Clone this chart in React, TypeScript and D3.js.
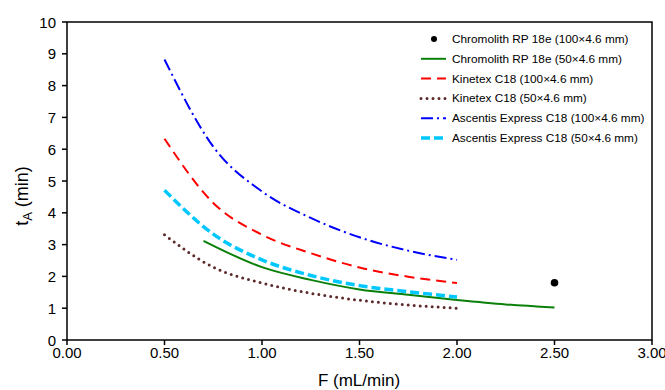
import React from "react";
import * as d3 from "d3";

const flowRates = [0.5, 0.75, 1.0, 1.25, 1.5, 1.75, 2.0];
const ascentis100 = [8.82, 6.08, 4.67, 3.84, 3.23, 2.81, 2.52];
const kinetex100 = [6.33, 4.31, 3.31, 2.73, 2.28, 1.99, 1.79];
const ascentis50 = [4.71, 3.33, 2.52, 2.03, 1.71, 1.52, 1.35];
const kinetex50 = [3.31, 2.29, 1.79, 1.47, 1.25, 1.1, 1.0];
const chromolithFlow = [0.7, 1.0, 1.25, 1.5, 1.75, 2.0, 2.25, 2.5];
const chromolith50 = [3.12, 2.29, 1.89, 1.59, 1.42, 1.26, 1.12, 1.02];
const chromolith100Point = { F: 2.5, t: 1.8 };

const xTicks = [0, 0.5, 1, 1.5, 2, 2.5, 3];
const yTicks = [0, 1, 2, 3, 4, 5, 6, 7, 8, 9, 10];

const legendLabels = [
  "Chromolith RP 18e (100×4.6 mm)",
  "Chromolith RP 18e (50×4.6 mm)",
  "Kinetex C18 (100×4.6 mm)",
  "Kinetex C18 (50×4.6 mm)",
  "Ascentis Express C18 (100×4.6 mm)",
  "Ascentis Express C18 (50×4.6 mm)",
];

type Style = { color: string; width: number; dash?: string; cap?: string };

const styles: Style[] = [
  { color: "#000000", width: 0 },
  { color: "#0a800a", width: 2 },
  { color: "#ff0000", width: 2, dash: "10,6" },
  { color: "#5c2a2a", width: 3, dash: "0,6", cap: "round" },
  { color: "#0000ff", width: 2, dash: "12,4,2,4" },
  { color: "#00c8ff", width: 3.5, dash: "9,4" },
];

const FONT = "Arial, 'Liberation Sans', sans-serif";

export default function App() {
  const W = 665;
  const H = 390;
  const left = 67;
  const right = 652;
  const top = 22;
  const bottom = 340;

  const x = d3.scaleLinear().domain([0, 3]).range([left, right]);
  const y = d3.scaleLinear().domain([0, 10]).range([bottom, top]);

  const line = d3
    .line<[number, number]>()
    .x((d) => x(d[0]))
    .y((d) => y(d[1]))
    .curve(d3.curveMonotoneX);

  const series: { pts: [number, number][]; s: Style }[] = [
    { pts: chromolithFlow.map((f, i) => [f, chromolith50[i]]), s: styles[1] },
    { pts: flowRates.map((f, i) => [f, kinetex100[i]]), s: styles[2] },
    { pts: flowRates.map((f, i) => [f, kinetex50[i]]), s: styles[3] },
    { pts: flowRates.map((f, i) => [f, ascentis100[i]]), s: styles[4] },
    { pts: flowRates.map((f, i) => [f, ascentis50[i]]), s: styles[5] },
  ];

  const legX = 421;
  const legY0 = 39;
  const legStep = 19.8;

  return (
    <svg
      width={W}
      height={H}
      style={{ position: "absolute", left: 0, top: 0, background: "#fff" }}
      fontFamily={FONT}
    >
      <rect x={0} y={0} width={W} height={H} fill="#fff" />
      {/* frame */}
      <rect
        x={left}
        y={top}
        width={right - left}
        height={bottom - top}
        fill="none"
        stroke="#000"
        strokeWidth={1.5}
      />
      {/* x ticks */}
      {xTicks.map((t) => (
        <g key={"x" + t}>
          <line x1={x(t)} x2={x(t)} y1={bottom} y2={bottom + 5} stroke="#000" strokeWidth={1.5} />
          <text x={x(t)} y={358} textAnchor="middle" fontSize={15} fill="#000">
            {t.toFixed(2)}
          </text>
        </g>
      ))}
      {/* y ticks */}
      {yTicks.map((t) => (
        <g key={"y" + t}>
          <line x1={left - 5} x2={left} y1={y(t)} y2={y(t)} stroke="#000" strokeWidth={1.5} />
          <text x={56} y={y(t) + 5.5} textAnchor="end" fontSize={15} fill="#000">
            {t}
          </text>
        </g>
      ))}
      <text x={359} y={386} textAnchor="middle" fontSize={17} fill="#000">
        F (mL/min)
      </text>
      <text
        transform={`translate(28,196) rotate(-90)`}
        textAnchor="middle"
        fontSize={18}
        fill="#000"
      >
        t<tspan fontSize={13} dy={4}>A</tspan>
        <tspan dy={-4}> (min)</tspan>
      </text>

      {/* series */}
      {series.map((d, i) => (
        <path
          key={i}
          d={line(d.pts) || ""}
          fill="none"
          stroke={d.s.color}
          strokeWidth={d.s.width}
          strokeDasharray={d.s.dash}
          strokeLinecap={(d.s.cap as any) || "butt"}
        />
      ))}
      <circle cx={x(chromolith100Point.F)} cy={y(chromolith100Point.t)} r={3.8} fill="#000" />

      {/* legend */}
      {legendLabels.map((lab, i) => {
        const ly = legY0 + i * legStep;
        const s = styles[i];
        return (
          <g key={lab}>
            {i === 0 ? (
              <circle cx={legX + 13} cy={ly} r={3} fill="#000" />
            ) : (
              <line
                x1={legX}
                x2={legX + 25}
                y1={ly}
                y2={ly}
                stroke={s.color}
                strokeWidth={s.width}
                strokeDasharray={s.dash}
                strokeLinecap={(s.cap as any) || "butt"}
              />
            )}
            <text x={452} y={ly + 4} fontSize={11.8} fill="#000">
              {lab}
            </text>
          </g>
        );
      })}
    </svg>
  );
}
